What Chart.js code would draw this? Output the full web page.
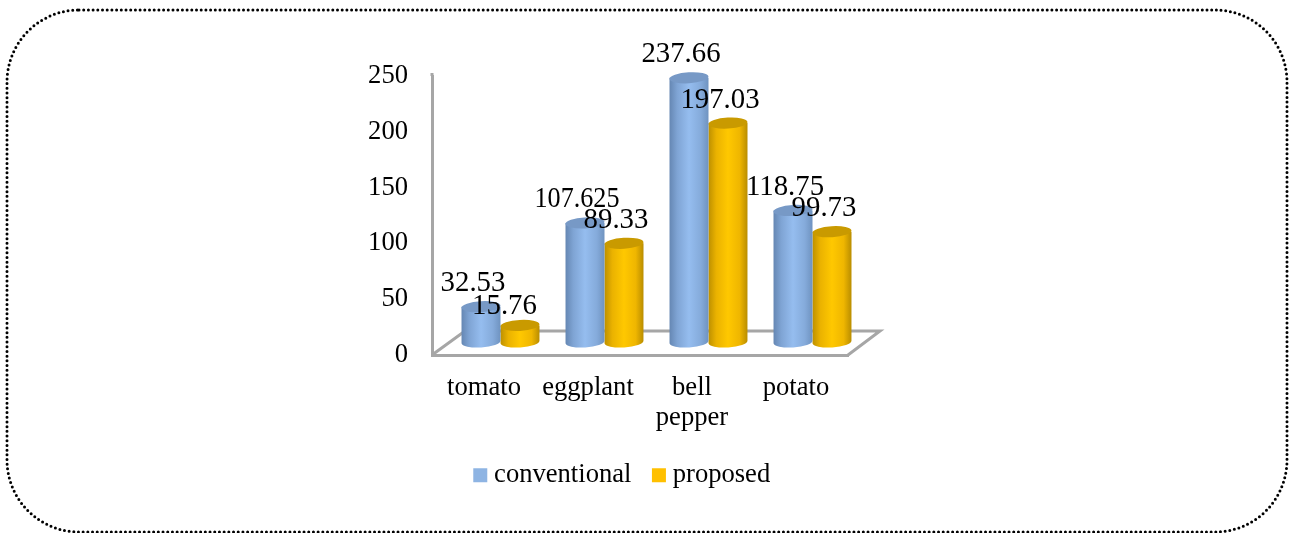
<!DOCTYPE html>
<html>
<head>
<meta charset="utf-8">
<title>chart</title>
<script src="https://cdn.jsdelivr.net/npm/chart.js@4/dist/chart.umd.js"></script>
<style>
  html, body { margin: 0; padding: 0; background: #fff; }
  canvas { display: block; }
</style>
</head>
<body>
<canvas id="canvasOne" width="1290" height="533"></canvas>
<script>
// data
const categories = ["tomato", "eggplant", ["bell", "pepper"], "potato"];
const conventional = [32.53, 107.625, 237.66, 118.75];
const proposed = [15.76, 89.33, 197.03, 99.73];
const tickStep = 50;
const tickMax = 250;

const FONT = { family: "'Liberation Serif'", size: 26.6 };
const AXIS_GREY = "#a6a6a6";

// shades for the cylinders: left edge, shoulder, middle, shoulder, right edge, cap
const shades = {
  "#8eb4e3": ["#6587b3", "#7fa4d4", "#95bdef", "#85abdb", "#6f93c0", "#7799c6"],
  "#ffc000": ["#bd9000", "#eab200", "#ffc800", "#efb600", "#b98d00", "#c99a00"],
};

// the 3D look: the bars sit back on the floor
const BAR_DX = 16.5;
const TOP_DY = -12;
const BASE_DY = -13;
const CAP_RY = 5.5;

// replace the flat bar with a cylinder
Chart.BarElement.prototype.draw = function (ctx) {
  const c = shades[this.options.backgroundColor];
  const cx = this.x + BAR_DX;
  const rx = this.width / 2;
  const top = this.y + TOP_DY;
  const base = this.base + BASE_DY;
  const tilt = -0.06;

  const grad = ctx.createLinearGradient(cx - rx, 0, cx + rx, 0);
  grad.addColorStop(0, c[0]);
  grad.addColorStop(0.2, c[1]);
  grad.addColorStop(0.5, c[2]);
  grad.addColorStop(0.8, c[3]);
  grad.addColorStop(1, c[4]);

  ctx.save();
  ctx.fillStyle = grad;
  ctx.beginPath();
  ctx.ellipse(cx, base, rx, CAP_RY, tilt, 0, Math.PI);
  ctx.lineTo(cx - rx, top);
  ctx.lineTo(cx + rx, top);
  ctx.closePath();
  ctx.fill();

  ctx.fillStyle = c[5];
  ctx.beginPath();
  ctx.ellipse(cx, top, rx, CAP_RY, tilt, 0, Math.PI * 2);
  ctx.fill();
  ctx.restore();
};

// dotted frame round the whole picture
const framePlugin = {
  id: "frame",
  beforeDraw(chart) {
    const ctx = chart.ctx;
    ctx.save();
    ctx.strokeStyle = "#000";
    ctx.lineWidth = 3;
    ctx.lineCap = "round";
    ctx.setLineDash([0, 4.7]);
    ctx.beginPath();
    ctx.roundRect(7, 10, 1280, 522, 72);
    ctx.stroke();
    ctx.restore();
  },
};

// floor of the 3D box, plus the bit of wall above the 250 tick
const floorPlugin = {
  id: "floor",
  beforeDatasetsDraw(chart) {
    const { left, right, top, bottom } = chart.chartArea;
    const ctx = chart.ctx;
    ctx.save();
    ctx.strokeStyle = AXIS_GREY;
    ctx.lineWidth = 3;
    ctx.beginPath();
    ctx.moveTo(left, top - 3);
    ctx.lineTo(left, top);
    ctx.moveTo(left, bottom);
    ctx.lineTo(left + 33, bottom - 24);
    ctx.lineTo(right + 32, bottom - 24);
    ctx.lineTo(right, bottom);
    ctx.stroke();
    ctx.restore();
  },
};

// the legend sits right of the middle of its box
const legendShift = {
  id: "legendShift",
  afterLayout(chart) {
    chart.legend.left += 18;
    chart.legend.right += 18;
    chart.legend.top += 1;
    chart.legend.bottom += 1;
  },
};

// values above the bars, they overlap like in the original
const valueLabels = {
  id: "valueLabels",
  afterDatasetsDraw(chart) {
    const ctx = chart.ctx;
    ctx.save();
    ctx.font = "28.8px " + FONT.family;
    ctx.fillStyle = "#000";
    ctx.textAlign = "center";
    ctx.textBaseline = "middle";
    chart.data.datasets.forEach((ds, i) => {
      chart.getDatasetMeta(i).data.forEach((bar, j) => {
        // the shortest bar has its label pulled in a little
        const small = ds.data[j] < 20;
        const x = bar.x + BAR_DX - (small ? 15.5 : 8);
        const y = bar.y + TOP_DY - (small ? 19 : 23);
        ctx.fillText(String(ds.data[j]), x, y, 85);
      });
    });
    ctx.restore();
  },
};

new Chart(document.getElementById("canvasOne"), {
  type: "bar",
  data: {
    labels: categories,
    datasets: [
      { label: "conventional", data: conventional, backgroundColor: "#8eb4e3", borderWidth: 0, clip: false },
      { label: "proposed", data: proposed, backgroundColor: "#ffc000", borderWidth: 0, clip: false },
    ],
  },
  options: {
    responsive: false,
    animation: false,
    datasets: { bar: { barPercentage: 1, categoryPercentage: 0.75 } },
    layout: { padding: { left: 366, right: 442, top: 76, bottom: 35.4 } },
    scales: {
      x: {
        afterFit: (s) => { s.height = 79; },
        grid: { display: false, drawTicks: false },
        border: { color: AXIS_GREY, width: 3 },
        ticks: { color: "#000", font: { ...FONT, lineHeight: 1.13 }, padding: 18, maxRotation: 0, autoSkip: false },
      },
      y: {
        min: 0,
        max: tickMax,
        afterFit: (s) => { s.width = 66; },
        grid: { display: false, drawTicks: false },
        border: { color: AXIS_GREY, width: 3 },
        ticks: { color: "#000", font: FONT, padding: 24, stepSize: tickStep },
      },
    },
    plugins: {
      tooltip: { enabled: false },
      legend: {
        position: "bottom",
        labels: {
          color: "#000",
          font: FONT,
          usePointStyle: true,
          pointStyle: "rect",
          boxWidth: 1,
          boxHeight: 14,
          padding: 27,
        },
      },
    },
  },
  plugins: [framePlugin, floorPlugin, legendShift, valueLabels],
});
</script>
</body>
</html>
